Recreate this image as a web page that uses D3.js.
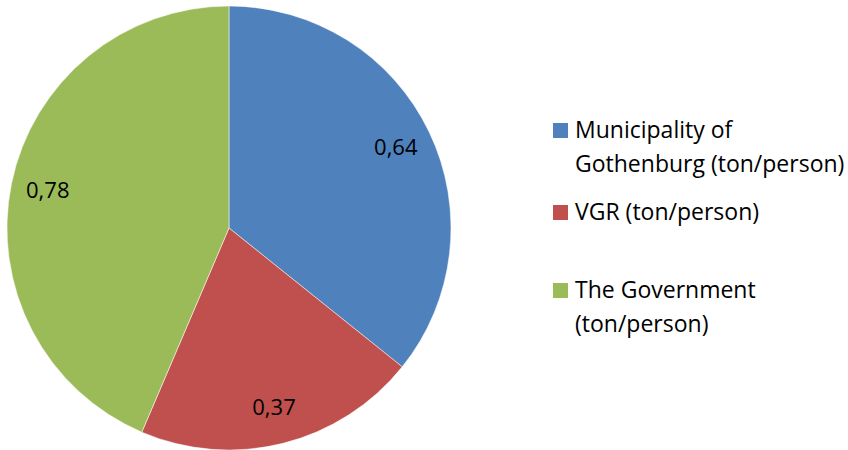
<!DOCTYPE html>
<html>
<head>
<meta charset="utf-8">
<script src="https://cdn.jsdelivr.net/npm/d3@7"></script>
<style>
  body { margin: 0; background: #fff; }
  text { font-family: "Open Sans", sans-serif; fill: #000; }
</style>
</head>
<body>
<div id="main"></div>
<script>
// data
const categories = ["Municipality of Gothenburg (ton/person)", "VGR (ton/person)", "The Government (ton/person)"];
const legendLines = [["Municipality of", "Gothenburg (ton/person)"], ["VGR (ton/person)"], ["The Government", "(ton/person)"]];
const values = [0.64, 0.37, 0.78];
const labels = ["0,64", "0,37", "0,78"];
const colors = ["#4F81BD", "#C0504D", "#9BBB59"];

const width = 848, height = 450;
const cx = 229, cy = 228, radius = 222;

const svg = d3.select("#main").append("svg").attr("width", width).attr("height", height);

const data = values.map((v, i) => ({ name: categories[i], value: v, label: labels[i], color: colors[i] }));

const pie = d3.pie().value(d => d.value).sort(null);
const arc = d3.arc().innerRadius(0).outerRadius(radius);
const labelArc = d3.arc().innerRadius(185).outerRadius(185);

const g = svg.append("g").attr("transform", `translate(${cx},${cy})`);
const arcs = pie(data);

g.selectAll("path").data(arcs).enter().append("path")
  .attr("d", arc)
  .attr("fill", d => d.data.color)
  .attr("stroke", "#fff")
  .attr("stroke-width", 0.5);

g.selectAll("text").data(arcs).enter().append("text")
  .attr("transform", d => `translate(${labelArc.centroid(d)})`)
  .attr("text-anchor", "middle")
  .attr("dy", "0.33em")
  .style("font-size", "22px")
  .text(d => d.data.label);

// legend
const legendTop = [123, 205, 283];
const legend = svg.append("g");
legendLines.forEach((lines, i) => {
  legend.append("rect").attr("x", 553).attr("y", legendTop[i]).attr("width", 15).attr("height", 15).attr("fill", colors[i]);
  const t = legend.append("text").attr("x", 575).attr("y", legendTop[i] + 15).style("font-size", "23px");
  lines.forEach((l, j) => {
    t.append("tspan").attr("x", 575).attr("dy", j === 0 ? 0 : 34).text(l);
  });
});
</script>
</body>
</html>
